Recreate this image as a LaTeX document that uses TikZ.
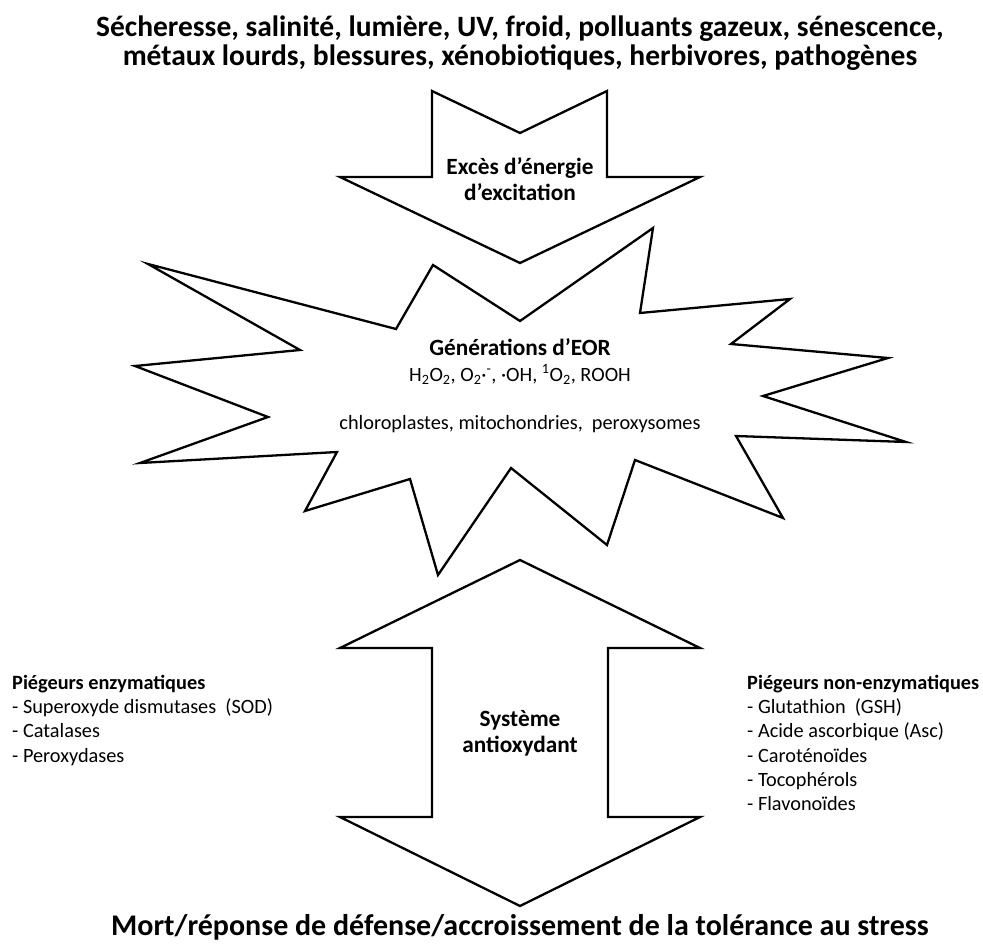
\documentclass[tikz,border=0pt]{standalone}
\usepackage{fontspec}
\setmainfont{Carlito}
\usetikzlibrary{positioning}

\begin{document}
\begin{tikzpicture}[
  x=1pt, y=-1pt,
  outline/.style={draw, line width=2.3pt, line join=miter, miter limit=25},
  heading/.style={font=\bfseries\fontsize{29.5}{29}\selectfont, inner sep=0pt},
  footer/.style={font=\bfseries\fontsize{30}{32}\selectfont, inner sep=0pt},
  label/.style={font=\bfseries\fontsize{23.3}{25.7}\selectfont, align=center, inner sep=0pt},
  info/.style={font=\fontsize{20.3}{25}\selectfont, inner sep=0pt},
  scavengers/.style={font=\fontsize{20.3}{24.2}\selectfont, align=left, anchor=north west, inner sep=0pt}
]
\useasboundingbox (0,0) rectangle (983,949);

% stress factors
\node[heading, anchor=base] (stress1) at (520,37)
{Sécheresse, salinité, lumière, UV, froid, polluants gazeux, sénescence,};
\node[heading, anchor=base] (stress2) at (520,66)
{métaux lourds, blessures, xénobiotiques, herbivores, pathogènes};

% excitation arrow
\draw[outline] (432,91) -- (520,133) -- (607,91) -- (607,177) -- (700,177)
  -- (520,263) -- (340,177) -- (432,177) -- cycle;
\node[label] (excess) at (520,179) {Excès d’énergie\\d’excitation};

% ROS burst
\draw[outline] (520,321) -- (433,265) -- (396,329) -- (148,264) -- (300,350)
  -- (135,366) -- (268,417) -- (140,463) -- (337,452) -- (305,511)
  -- (410,479) -- (438,575) -- (511,468) -- (607,545) -- (635,460)
  -- (783,518) -- (736,436) -- (906,442) -- (763,396) -- (888,358)
  -- (731,344) -- (790,299) -- (640,313) -- (653,228) -- cycle;
\node[label, anchor=base] (eor) at (520,356) {Générations d’EOR};
\node[info, anchor=base] (species) at (520,381.5)
{H\textsubscript{2}O\textsubscript{2}, O\textsubscript{2}·\textsuperscript{-}, ·OH, \textsuperscript{1}O\textsubscript{2}, ROOH};
\node[info, anchor=base] (sites) at (520,430)
{chloroplastes, mitochondries, \ peroxysomes};

% antioxidant double arrow
\draw[outline] (520,560) -- (700,648) -- (608,648) -- (608,817) -- (700,817)
  -- (520,906) -- (340,817) -- (432,817) -- (432,648) -- (340,648) -- cycle;
\node[label] (antiox) at (520,733) {Système\\antioxydant};

% scavengers
\node[scavengers] (enzym) at (12,675)
{\textbf{Piégeurs enzymatiques}\\- Superoxyde dismutases \ (SOD)\\- Catalases\\- Peroxydases};
\node[scavengers] (nonenzym) at (747,675)
{\textbf{Piégeurs non-enzymatiques}\\- Glutathion \ (GSH)\\- Acide ascorbique (Asc)\\- Caroténoïdes\\- Tocophérols\\- Flavonoïdes};

% outcome
\node[footer, anchor=base] (outcome) at (520,935)
{Mort/réponse de défense/accroissement de la tolérance au stress};
\end{tikzpicture}
\end{document}
